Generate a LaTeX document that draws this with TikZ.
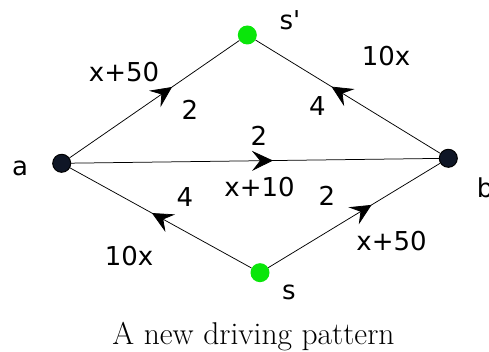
\documentclass[tikz,border=0pt]{standalone}
\usepackage{fontspec}
\newfontfamily\lab{DejaVu Sans}
\usetikzlibrary{arrows.meta,decorations.markings}
\definecolor{navy}{HTML}{0F1626}
\definecolor{vgreen}{HTML}{0AE60A}
\begin{document}
\begin{tikzpicture}[x=1pt,y=1pt,
  dark/.style={circle,draw=black,line width=1pt,fill=navy,minimum size=18pt,inner sep=0pt},
  light/.style={circle,fill=vgreen,minimum size=19pt,inner sep=0pt},
  lbl/.style={font=\lab\fontsize{26}{31}\selectfont,anchor=base,inner sep=0pt},
  flow/.style={line width=0.75pt,postaction={decorate},
    decoration={markings,mark=at position #1 with {\arrow{Stealth[length=21pt,width=20pt,inset=8pt]}}}}
]
\useasboundingbox (0,0) rectangle (489,352);
\node[dark]  (a)  at (61.7,188.7) {};
\node[light] (sp) at (247.3,317) {};
\node[dark]  (b)  at (448.3,193.7) {};
\node[light] (s)  at (260,79.3) {};

\draw[flow=0.604] (a) -- (sp);
\draw[flow=0.549] (a) -- (b);
\draw[flow=0.589] (b) -- (sp);
\draw[flow=0.549] (s) -- (a);
\draw[flow=0.601] (s) -- (b);

\node[lbl] (la)   at (20,176) {a};
\node[lbl] (lb)   at (485,154) {b};
\node[lbl] (lsp)  at (290,322) {s'};
\node[lbl] (ls)   at (289,52) {s};
\node[lbl] (l1)   at (124,270) {x+50};
\node[lbl] (l2)   at (190,232) {2};
\node[lbl] (l3)   at (386,286) {10x};
\node[lbl] (l4)   at (317.5,236) {4};
\node[lbl] (l5)   at (259,206) {2};
\node[lbl] (l6)   at (259.5,155) {x+10};
\node[lbl] (l7)   at (185,145) {4};
\node[lbl] (l8)   at (327,146) {2};
\node[lbl] (l9)   at (129,86) {10x};
\node[lbl] (l10)  at (391.5,101) {x+50};
\node[font=\fontsize{31.5}{37}\selectfont,anchor=base,inner sep=0pt] (cap) at (253.5,7) {A new driving pattern};
\end{tikzpicture}
\end{document}
